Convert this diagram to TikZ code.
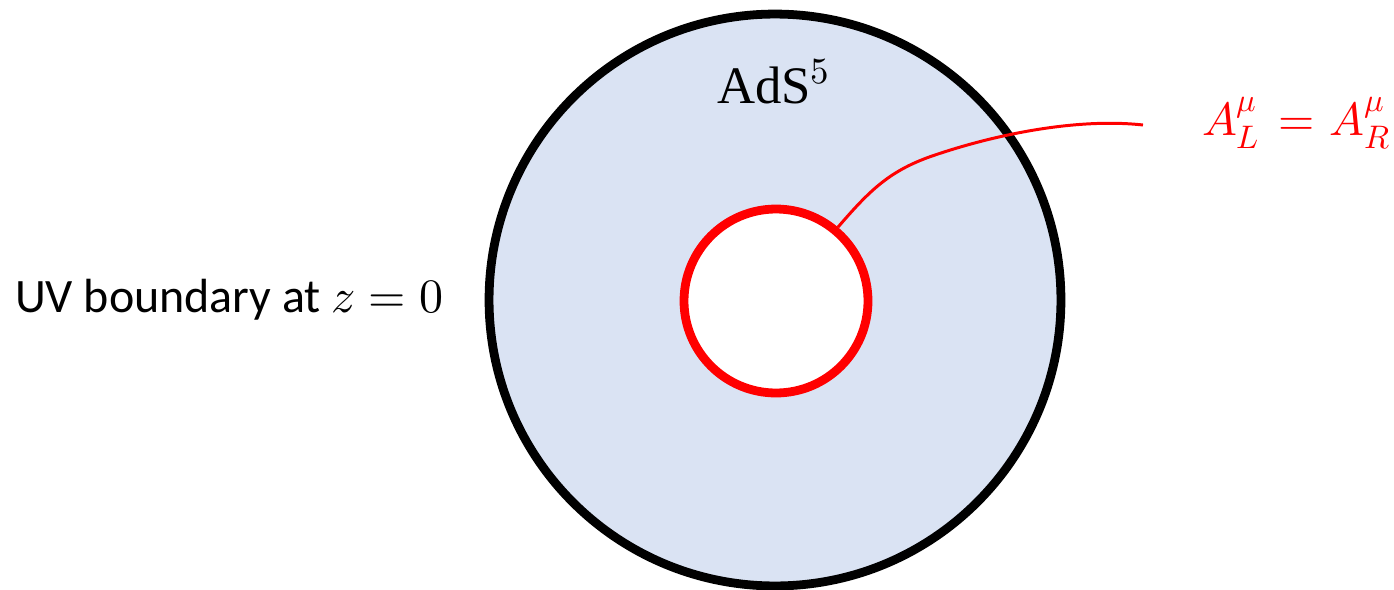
\documentclass[tikz,border=0pt]{standalone}
\usepackage{fontspec}
\usepackage{unicode-math}
\setmainfont{Carlito}
\setmathfont{Latin Modern Math}
\newfontfamily\serifface{Liberation Serif}
\definecolor{bulkfill}{HTML}{DAE3F3}
\definecolor{branered}{HTML}{FF0000}
\begin{document}
\begin{tikzpicture}[x=0.02cm,y=-0.02cm,
  bulk/.style={circle,draw=black,fill=bulkfill,line width=5pt,minimum size=11.44cm,inner sep=0pt},
  brane/.style={circle,draw=branered,fill=white,line width=5pt,minimum size=3.68cm,inner sep=0pt},
  lbl/.style={inner sep=0pt,outer sep=0pt}]
\useasboundingbox (0,0) rectangle (1394,589);
\clip (0,0) rectangle (1394,589);
\node[bulk] (outer) at (775,300) {};
\node[brane] (inner) at (776,301) {};
\coordinate (tail) at (1143,125);
\draw[branered,line width=1.7pt] (inner.50) .. controls (870,190) and (890,170) .. (935,155)
  .. controls (1000,133) and (1080,118) .. (tail);
\node[lbl,anchor=base west] (uv) at (15,312) {\fontsize{27.3}{33}\selectfont UV boundary at $z=0$};
\node[lbl,anchor=base west] (ads) at (717,103) {\fontsize{30}{36}\selectfont\serifface AdS$^{5}$};
\node[lbl,anchor=base west,text=branered] (cond) at (1202,135) {\fontsize{26.5}{32}\selectfont $A_L^{\mu}\mkern2mu=\mkern1mu A_R^{\mu}$};
\end{tikzpicture}
\end{document}
